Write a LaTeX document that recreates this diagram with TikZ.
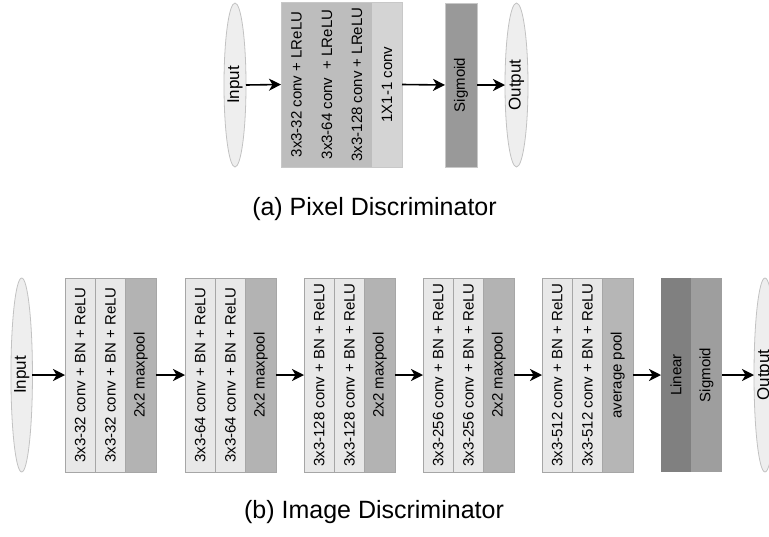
\documentclass[tikz,border=0pt]{standalone}
\usepackage{fontspec}
\setmainfont{Liberation Sans}
\usetikzlibrary{arrows.meta,shapes.geometric}
\definecolor{cLight}{HTML}{E8E8E8}
\definecolor{cBorder}{HTML}{A6A6A6}
\definecolor{cPool}{HTML}{B3B3B3}
\definecolor{cAvg}{HTML}{B6B6B6}
\definecolor{cTopConv}{HTML}{BDBDBD}
\definecolor{cTopOne}{HTML}{D4D4D4}
\definecolor{cTopBorder}{HTML}{C8C8C8}
\definecolor{cSigTop}{HTML}{999999}
\definecolor{cLinear}{HTML}{808080}
\definecolor{cSigBot}{HTML}{9E9E9E}
\definecolor{cEll}{HTML}{EEEEEE}
\definecolor{cEllB}{HTML}{C2C2C2}
\newcommand\vtext[1]{\rotatebox{90}{#1}}
\begin{document}
\begin{tikzpicture}[x=1pt,y=-1pt,
  every node/.style={inner sep=0pt, outer sep=0pt, text=black},
  col/.style={rectangle, minimum width=30.3pt, minimum height=194pt, font=\fontsize{15}{16}\selectfont},
  conv/.style={col, fill=cLight, draw=cBorder, line width=0.8pt},
  pool/.style={col, fill=cPool, draw=cBorder, line width=0.8pt},
  tcol/.style={rectangle, minimum width=30pt, minimum height=165pt, font=\fontsize{15}{16}\selectfont},
  oval/.style={ellipse, fill=cEll, draw=cEllB, line width=0.8pt, font=\fontsize{17}{19}\selectfont},
  arr/.style={-{Stealth[length=12pt,width=12pt,inset=3.5pt]}, line width=1.6pt},
  captext/.style={font=\fontsize{25}{28}\selectfont, anchor=base}]
\useasboundingbox (0,0) rectangle (769,536);

% ---------- (a) Pixel Discriminator ----------
\node[oval, minimum width=22pt, minimum height=164pt] (inA) at (235,85) {\vtext{Input}};
\node[tcol, minimum width=31pt, fill=cTopConv, draw=cTopConv] (p1) at (296.5,84.5) {\vtext{3x3-32 conv + LReLU}};
\node[tcol, fill=cTopConv, draw=cTopConv] (p2) at (327,84.5) {\vtext{3x3-64 conv \ + LReLU}};
\node[tcol, fill=cTopConv, draw=cTopConv] (p3) at (357,84.5) {\vtext{3x3-128 conv + LReLU}};
\node[tcol, fill=cTopOne, draw=cTopOne] (p4) at (387,84.5) {\vtext{1X1-1 conv}};
\draw[cTopBorder, line width=0.8pt] (p1.north west) rectangle (p4.south east);
\node[tcol, minimum width=32pt, minimum height=164pt, fill=cSigTop, draw=cTopBorder, line width=0.6pt] (sigA) at (461,85) {\vtext{Sigmoid}};
\node[oval, minimum width=23pt, minimum height=164pt] (outA) at (516.5,85) {\vtext{Output}};
\draw[arr] (inA.east) -- (p1.west);
\draw[arr] (p4.east) -- (sigA.west);
\draw[arr] (sigA.east) -- (outA.west);
\node[captext] (capA) at (374.5,215) {(a) Pixel Discriminator};

% ---------- (b) Image Discriminator ----------
\node[oval, minimum width=18pt, minimum height=194pt] (inB) at (21.7,375) {\vtext{Input}};

\node[conv] (b1a) at (80.15,375) {\vtext{3x3-32 conv + BN + ReLU}};
\node[conv] (b1b) at (110.45,375) {\vtext{3x3-32 conv + BN + ReLU}};
\node[pool] (b1p) at (140.75,375) {\vtext{2x2 maxpool}};

\node[conv] (b2a) at (200.15,375) {\vtext{3x3-64 conv + BN + ReLU}};
\node[conv] (b2b) at (230.45,375) {\vtext{3x3-64 conv + BN + ReLU}};
\node[pool] (b2p) at (260.75,375) {\vtext{2x2 maxpool}};

\node[conv] (b3a) at (319.15,375) {\vtext{3x3-128 conv + BN + ReLU}};
\node[conv] (b3b) at (349.45,375) {\vtext{3x3-128 conv + BN + ReLU}};
\node[pool] (b3p) at (379.75,375) {\vtext{2x2 maxpool}};

\node[conv] (b4a) at (438.15,375) {\vtext{3x3-256 conv + BN + ReLU}};
\node[conv] (b4b) at (468.45,375) {\vtext{3x3-256 conv + BN + ReLU}};
\node[pool] (b4p) at (498.75,375) {\vtext{2x2 maxpool}};

\node[conv] (b5a) at (557.15,375) {\vtext{3x3-512 conv + BN + ReLU}};
\node[conv] (b5b) at (587.45,375) {\vtext{3x3-512 conv + BN + ReLU}};
\node[pool, fill=cAvg] (b5p) at (617.75,375) {\vtext{average pool}};

\node[col, minimum width=30pt, fill=cLinear] (lin) at (676,375) {\vtext{Linear}};
\node[col, minimum width=31pt, fill=cSigBot] (sigB) at (706.5,375) {\vtext{Sigmoid}};

\node[oval, minimum width=22pt, minimum height=194pt] (outB) at (765,375) {\vtext{Output}};

\draw[arr] (inB.east) -- (b1a.west);
\draw[arr] (b1p.east) -- (b2a.west);
\draw[arr] (b2p.east) -- (b3a.west);
\draw[arr] (b3p.east) -- (b4a.west);
\draw[arr] (b4p.east) -- (b5a.west);
\draw[arr] (b5p.east) -- (lin.west);
\draw[arr] (sigB.east) -- (outB.west);

\node[captext] (capB) at (374,518) {(b) Image Discriminator};
\end{tikzpicture}
\end{document}
